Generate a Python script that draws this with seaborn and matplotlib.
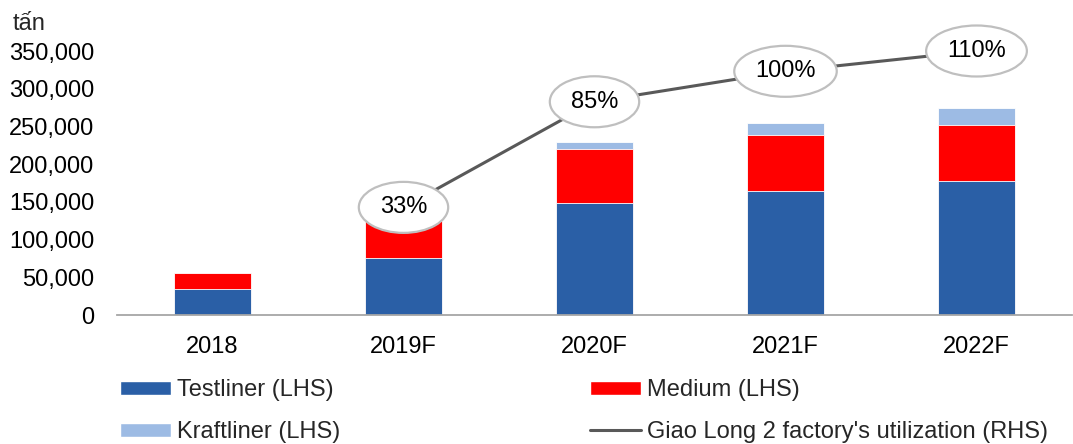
import numpy as np
import pandas as pd
import matplotlib
matplotlib.use("Agg")
import matplotlib.pyplot as plt
from matplotlib.patches import Ellipse, Patch
from matplotlib.lines import Line2D
from matplotlib.ticker import FuncFormatter
import seaborn as sns

# ---- data -------------------------------------------------------------
years = ["2018", "2019F", "2020F", "2021F", "2022F"]
testliner = [35000, 75000, 148000, 164000, 177000]
medium = [21000, 50000, 72000, 75000, 75000]
kraftliner = [0, 0, 9000, 15000, 23000]

util_years = [1, 2, 3, 4]          # positions of 2019F..2022F
utilization = [0.33, 0.85, 1.00, 1.10]
util_labels = ["33%", "85%", "100%", "110%"]

series_labels = ["Testliner (LHS)", "Kraftliner (LHS)", "Medium (LHS)",
                 "Giao Long 2 factory's utilization (RHS)"]

# ---- style ------------------------------------------------------------
sns.set_style("white")
plt.rcParams["font.family"] = ["Liberation Sans", "DejaVu Sans"]
FS = 17
C_TEST = "#2a5fa6"
C_MED = "#ff0000"
C_KRAFT = "#9dbbe4"
C_LINE = "#595959"

W, H = 1073, 444
fig = plt.figure(figsize=(W / 100, H / 100), dpi=100)
ax = fig.add_axes([117 / W, 1 - 315 / H, (1072 - 117) / W, (315 - 51) / H])

t = np.array(testliner)
m = np.array(medium)
k = np.array(kraftliner)
df = pd.DataFrame({"year": years, "top": t + m + k, "mid": t + m, "base": t})

# stacked bars: draw cumulative heights from the tallest down
for col, c in [("top", C_KRAFT), ("mid", C_MED), ("base", C_TEST)]:
    sns.barplot(data=df, x="year", y=col, order=years, color=c,
                saturation=1, width=0.4, ax=ax, zorder=2, linewidth=0.6,
                edgecolor="white")

ax.set_ylim(0, 350000)
ax.set_yticks(np.arange(0, 350001, 50000))
ax.yaxis.set_major_formatter(FuncFormatter(lambda v, p: f"{int(v):,}"))
ax.set_xlabel("")
ax.set_ylabel("")
for s in ["left", "top", "right"]:
    ax.spines[s].set_visible(False)
ax.spines["bottom"].set_color("#a6a6a6")
ax.spines["bottom"].set_linewidth(1.3)
ax.tick_params(axis="y", length=0, pad=16.5, labelsize=FS, labelcolor="black")
ax.tick_params(axis="x", length=0, pad=15, labelsize=FS, labelcolor="black")

# utilization line on a hidden right axis
ax2 = ax.twinx()
sns.lineplot(x=util_years, y=utilization, ax=ax2, color=C_LINE,
             linewidth=2.2, legend=False, zorder=2)
for ln in ax2.get_lines():
    ln.set_clip_on(False)
ax2.set_ylim(-0.2, 1.1)
ax.set_xlim(-0.5, 4.5)
ax2.set_xlim(-0.5, 4.5)
ax2.set_axis_off()

# oval value labels
fig.canvas.draw()
renderer = fig.canvas.get_renderer()
p0 = ax2.transData.transform((0, 0))
p1 = ax2.transData.transform((1, 1))
px_x = p1[0] - p0[0]
px_y = p1[1] - p0[1]
for x, v, lab in zip(util_years, utilization, util_labels):
    txt = ax2.text(x, v, lab, ha="center", va="center", fontsize=FS,
                   color="black", zorder=5, clip_on=False)
    tw = txt.get_window_extent(renderer).width
    e = Ellipse((x, v), width=(tw + 42) / px_x, height=51 / px_y,
                facecolor="white", edgecolor="#bfbfbf", linewidth=1.6,
                zorder=4, clip_on=False)
    ax2.add_patch(e)

# unit label
fig.text(13 / W, 1 - 30 / H, "tấn", ha="left", va="baseline", fontsize=FS)

# legend
handles = [Patch(facecolor=C_TEST), Patch(facecolor=C_KRAFT),
           Patch(facecolor=C_MED), Line2D([], [], color=C_LINE, lw=2.2)]
fig.legend(handles, series_labels, ncol=2, loc="upper left",
           bbox_to_anchor=(120 / W, 1 - 379 / H), frameon=False, fontsize=FS,
           handlelength=2.15, handleheight=0.55, handletextpad=0.25,
           columnspacing=10.6, labelspacing=0.85, borderpad=0,
           borderaxespad=0)

fig.savefig("out.png", dpi=100)
